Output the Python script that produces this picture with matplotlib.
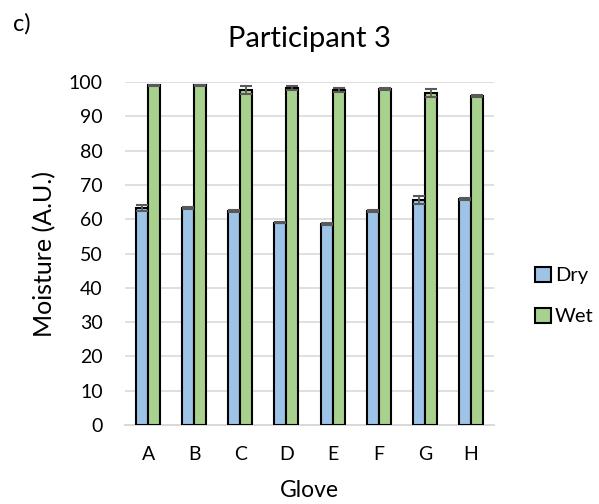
import matplotlib.pyplot as plt
import numpy as np

plt.rcParams['font.family'] = ['Lato', 'DejaVu Sans']

gloves = ["A", "B", "C", "D", "E", "F", "G", "H"]
dry = [63.3, 63.4, 62.4, 59.0, 58.5, 62.4, 65.6, 65.9]
dry_err = [0.8, 0.3, 0.3, 0.2, 0.3, 0.3, 1.2, 0.3]
wet = [99.0, 99.0, 97.7, 98.3, 97.7, 98.0, 96.8, 95.8]
wet_err = [0.2, 0.2, 1.2, 0.6, 0.5, 0.2, 1.3, 0.3]

fig = plt.figure(figsize=(5.99, 5.04), dpi=100)
ax = fig.add_axes([0.2087, 0.1567, 0.616, 0.6806])

x = np.arange(len(gloves))
w = 0.26
err_kw = dict(ecolor="#595959", capsize=4, elinewidth=1.3, capthick=1.5)
ax.bar(x - w / 2, dry, w, yerr=dry_err, color="#9dc3e6", edgecolor="black",
       linewidth=1.5, label="Dry", error_kw=err_kw, zorder=3)
ax.bar(x + w / 2, wet, w, yerr=wet_err, color="#a9d18e", edgecolor="black",
       linewidth=1.5, label="Wet", error_kw=err_kw, zorder=3)

ax.set_ylim(0, 100)
ax.set_xlim(-0.5, 7.5)
ax.set_yticks(range(0, 101, 10))
ax.set_xticks(x)
ax.set_xticklabels(gloves)
ax.yaxis.grid(True, color="#d9d9d9", linewidth=1.2, zorder=0)
ax.set_axisbelow(True)
for s in ["top", "right", "left"]:
    ax.spines[s].set_visible(False)
ax.spines["bottom"].set_color("#d9d9d9")
ax.spines["bottom"].set_linewidth(1.4)
ax.tick_params(length=0, labelsize=14, colors="black")
ax.tick_params(axis="y", pad=16)
ax.tick_params(axis="x", pad=15)

ax.set_xlabel("Glove", fontsize=16.5, labelpad=12)
ax.set_ylabel("Moisture (A.U.)", fontsize=18, labelpad=9)
ax.set_title("Participant 3", fontsize=21, pad=25)
fig.text(13 / 599, 1 - 13 / 504, "c)", fontsize=17, va="top")

fig.legend(loc="center left", bbox_to_anchor=(535 / 599, 1 - 296 / 504),
           frameon=False, fontsize=14.5, handlelength=0.8, handleheight=0.8,
           labelspacing=1.15, handletextpad=0.2, borderpad=0, borderaxespad=0)

fig.savefig("out.png", dpi=100)
